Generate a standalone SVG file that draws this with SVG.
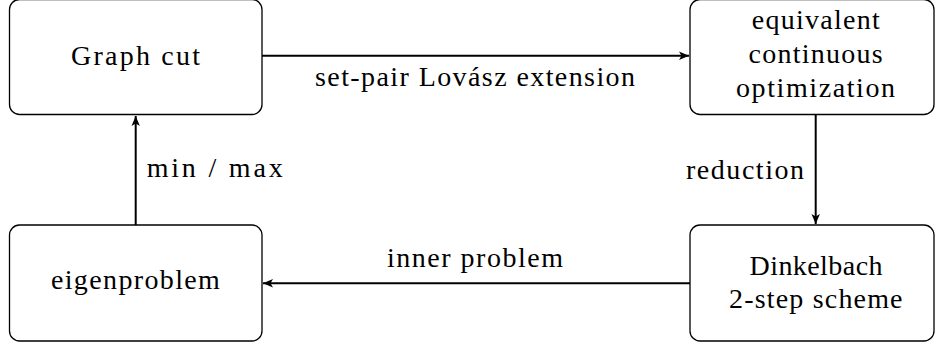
<svg xmlns="http://www.w3.org/2000/svg" width="936" height="345" viewBox="0 0 936 345">
<style>
.box{fill:#fff;stroke:#000;stroke-width:1.3}
text{font-size:28px;fill:#000;text-anchor:middle}
.c{fill:none;stroke:#000;stroke-width:2}
</style>
<defs>
<marker id="ah" markerWidth="12" markerHeight="10" refX="10" refY="5" orient="auto" markerUnits="userSpaceOnUse">
<path d="M0,0.8 L10,5 L0,9.2 L2.5,5 Z" fill="#000"/>
</marker>
</defs>
<rect width="936" height="345" fill="#fff"/>
<g font-family="Liberation Serif, serif">
<g id="connectors">
<line class="c" x1="262" y1="55.7" x2="689" y2="55.7" marker-end="url(#ah)"/>
<text x="475" y="86" textLength="320" lengthAdjust="spacing">set-pair Lovász extension</text>
<line class="c" x1="815.7" y1="115" x2="815.7" y2="224" marker-end="url(#ah)"/>
<text x="745" y="179" textLength="118" lengthAdjust="spacing">reduction</text>
<line class="c" x1="690" y1="283.3" x2="263" y2="283.3" marker-end="url(#ah)"/>
<text x="475" y="267" textLength="176" lengthAdjust="spacing">inner problem</text>
<line class="c" x1="135.7" y1="225" x2="135.7" y2="116" marker-end="url(#ah)"/>
<text x="214.7" y="177" textLength="136" lengthAdjust="spacing">min / max</text>
</g>
<g id="graphcut">
<rect class="box" x="9.5" y="-0.5" width="252.5" height="115" rx="10"/>
<text x="135.5" y="65" textLength="129" lengthAdjust="spacing">Graph cut</text>
</g>
<g id="continuous">
<rect class="box" x="690" y="-0.5" width="244" height="115" rx="10"/>
<text x="815.8" y="29" textLength="128" lengthAdjust="spacing">equivalent</text>
<text x="815.6" y="63" textLength="134" lengthAdjust="spacing">continuous</text>
<text x="815.5" y="97" textLength="159" lengthAdjust="spacing">optimization</text>
</g>
<g id="eigenproblem">
<rect class="box" x="9.5" y="225" width="252.5" height="116" rx="10"/>
<text x="135.4" y="289" textLength="169" lengthAdjust="spacing">eigenproblem</text>
</g>
<g id="dinkelbach">
<rect class="box" x="690" y="225" width="244" height="116" rx="10"/>
<text x="816" y="275" textLength="133" lengthAdjust="spacing">Dinkelbach</text>
<text x="815.8" y="307.5" textLength="173.5" lengthAdjust="spacing">2-step scheme</text>
</g>
</g>
</svg>
